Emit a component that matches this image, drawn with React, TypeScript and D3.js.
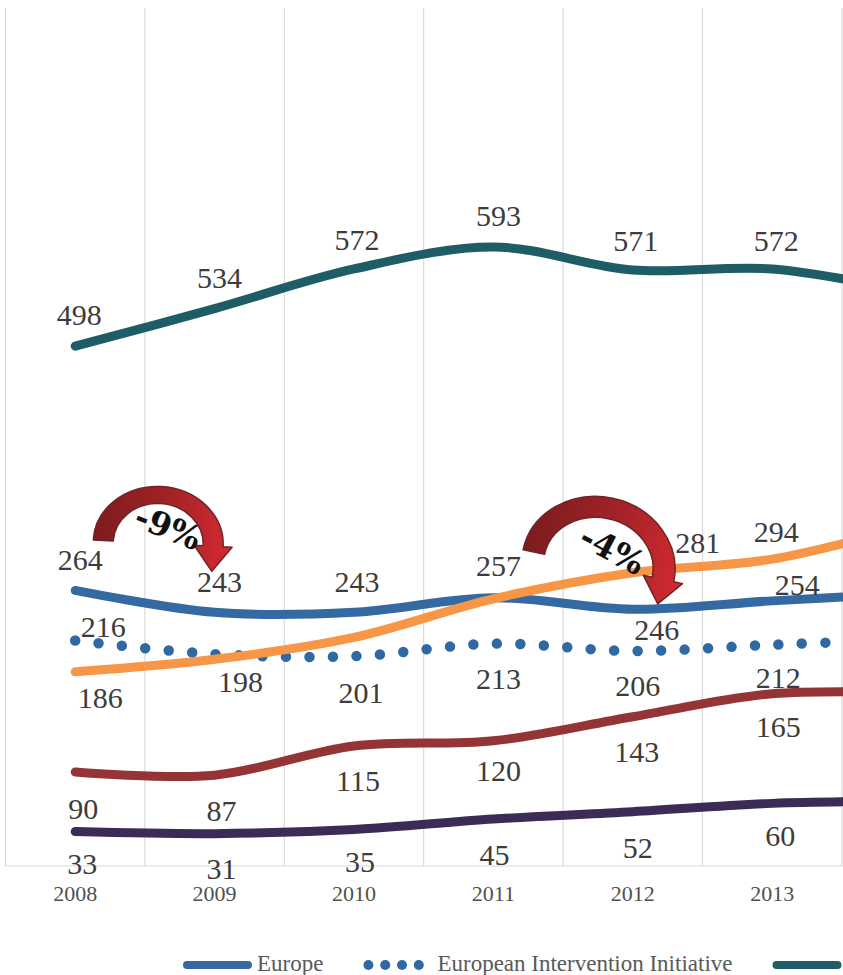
import { useEffect, useRef } from "react";
import * as d3 from "d3";

// categories (2014 sits just past the right edge of the crop)
const years = ["2008", "2009", "2010", "2011", "2012", "2013", "2014"];

// series values
const europe = [264, 243, 243, 257, 246, 254, 261];
const eii = [216, 203, 201, 213, 206, 212, 217];
const teal = [498, 534, 572, 593, 571, 572, 550];
const orange = [186, 198, 219, 256, 281, 294, 326];
const red = [90, 87, 115, 120, 143, 165, 166];
const purple = [33, 31, 35, 45, 52, 60, 62];

// which points carry a value label
const europeShown = [1, 1, 1, 1, 1, 1, 0];
const eiiShown = [1, 0, 1, 1, 1, 1, 0];
const tealShown = [1, 1, 1, 1, 1, 1, 0];
const orangeShown = [1, 1, 0, 0, 1, 1, 0];
const redShown = [1, 1, 1, 1, 1, 1, 0];
const purpleShown = [1, 1, 1, 1, 1, 1, 0];

const legendNames = ["Europe", "European Intervention Initiative", ""];

// label placement (dx, dy from the point to the label centre)
const ABOVE: [number, number] = [5, -30];
const BELOW: [number, number] = [5, 35];
const europePos: [number, number][] = [ABOVE, ABOVE, [3, -30], [5, -32], [24, 21], [25, -16], ABOVE];
const eiiPos: [number, number][] = [[28, -14], BELOW, [7, 37], BELOW, BELOW, [6, 33], BELOW];
const tealPos: [number, number][] = [[4, -31], [5, -31], [3, -29], [5, -31], [3, -29], [4, -28], ABOVE];
const orangePos: [number, number][] = [[25, 26], [26, 23], ABOVE, ABOVE, [65, -30], [4, -27], ABOVE];
const redPos: [number, number][] = [[8, 37], [7, 36], [4, 35], [5, 30], [4, 35], [6, 33], BELOW];
const purplePos: [number, number][] = [[7, 32], [7, 35], [6, 33], [1, 36], [5, 36], [8, 33], BELOW];

const W = 843;
const H = 975;
const FONT = "'Liberation Serif', 'Times New Roman', serif";

export default function App() {
  const ref = useRef<SVGSVGElement>(null);

  useEffect(() => {
    const svg = d3.select(ref.current);
    svg.selectAll("*").remove();

    const left = 5.5;
    const bw = 139.4;
    const x = d3.scaleBand().domain(years).range([left, left + bw * years.length]).padding(0);
    const y = d3.scaleLinear().domain([0, 822]).range([866, 8]);
    const xc = (yr: string) => (x(yr) as number) + x.bandwidth() / 2;

    // gridlines
    const grid = svg.append("g");
    const bounds = years.map((yr) => x(yr) as number).concat([left + bw * years.length]);
    grid.selectAll("line").data(bounds).enter().append("line")
      .attr("x1", (d) => d).attr("x2", (d) => d)
      .attr("y1", y(822)).attr("y2", y(0))
      .attr("stroke", "#d9d9d9").attr("stroke-width", 1.2);
    grid.append("line")
      .attr("x1", left).attr("x2", W).attr("y1", y(0)).attr("y2", y(0))
      .attr("stroke", "#d9d9d9").attr("stroke-width", 1.2);

    // year labels (only those inside the visible crop)
    svg.append("g").selectAll("text").data(years.filter((d) => xc(d) + 25 < W)).enter().append("text")
      .attr("x", (d) => xc(d)).attr("y", 901)
      .attr("text-anchor", "middle")
      .attr("font-family", FONT).attr("font-size", 22).attr("fill", "#505050")
      .text((d) => d);

    const series = [
      { values: teal, shown: tealShown, pos: tealPos, color: "#1e5d65", dotted: false },
      { values: purple, shown: purpleShown, pos: purplePos, color: "#3b2b56", dotted: false },
      { values: red, shown: redShown, pos: redPos, color: "#943435", dotted: false },
      { values: eii, shown: eiiShown, pos: eiiPos, color: "#2f69a3", dotted: true },
      { values: europe, shown: europeShown, pos: europePos, color: "#3469a2", dotted: false },
      { values: orange, shown: orangeShown, pos: orangePos, color: "#f79646", dotted: false },
    ];

    const line = d3.line<number>()
      .x((_, i) => xc(years[i]))
      .y((d) => y(d))
      .curve(d3.curveCatmullRom.alpha(0.5));

    const lines = svg.append("g");
    series.forEach((s) => {
      lines.append("path")
        .datum(s.values)
        .attr("fill", "none")
        .attr("stroke", s.color)
        .attr("stroke-width", s.dotted ? 10.5 : 9)
        .attr("stroke-linecap", "round")
        .attr("stroke-dasharray", s.dotted ? "0 23.5" : null)
        .attr("d", line);
    });

    // curved "change" arrows
    const defs = svg.append("defs");
    const grad = defs.append("linearGradient").attr("id", "arrowGrad")
      .attr("x1", 0).attr("x2", 1).attr("y1", 0).attr("y2", 0);
    grad.append("stop").attr("offset", "0%").attr("stop-color", "#7c1c1e");
    grad.append("stop").attr("offset", "55%").attr("stop-color", "#a42328");
    grad.append("stop").attr("offset", "100%").attr("stop-color", "#d42a30");

    const arrows = [
      { year: "2008", dx: 83, cy: y(264) - 47, rxo: 65, ryo: 57, rxi: 45, ryi: 40, rot: 3, text: "-9%", tdx: 10, tdy: -16, trot: 22 },
      { year: "2011", dx: 105, cy: y(257) - 32, rxo: 77, ryo: 69, rxi: 55, ryi: 48, rot: 12, text: "-4%", tdx: 14, tdy: -16, trot: 28 },
    ];
    const ann = svg.append("g");
    arrows.forEach((a) => {
      const cx = xc(a.year) + a.dx;
      const cy = a.cy;
      const hw = 9;
      const hl = 25;
      const mid = (a.rxo + a.rxi) / 2;
      const p = [
        `M${cx - a.rxo},${cy}`,
        `A${a.rxo},${a.ryo} 0 0 1 ${cx + a.rxo},${cy}`,
        `L${cx + a.rxo + hw},${cy}`,
        `L${cx + mid},${cy + hl}`,
        `L${cx + a.rxi - hw},${cy}`,
        `L${cx + a.rxi},${cy}`,
        `A${a.rxi},${a.ryi} 0 0 0 ${cx - a.rxi},${cy}`,
        "Z",
      ].join(" ");
      ann.append("path")
        .attr("d", p)
        .attr("fill", "url(#arrowGrad)")
        .attr("stroke", "#6e2426")
        .attr("stroke-width", 1.5)
        .attr("stroke-linejoin", "round")
        .attr("transform", `rotate(${a.rot},${cx},${cy})`);
      ann.append("text")
        .attr("transform", `translate(${cx + a.tdx},${cy + a.tdy}) rotate(${a.trot})`)
        .attr("text-anchor", "middle")
        .attr("dominant-baseline", "central")
        .attr("font-family", "'DejaVu Serif', serif").attr("font-weight", "bold").attr("font-size", 33)
        .attr("fill", "#111")
        .text(a.text);
    });

    // value labels
    const labels = svg.append("g");
    series.forEach((s) => {
      s.values.forEach((v, i) => {
        if (!s.shown[i]) return;
        const [dx, dy] = s.pos[i];
        labels.append("text")
          .attr("x", xc(years[i]) + dx)
          .attr("y", y(v) + dy + 10)
          .attr("text-anchor", "middle")
          .attr("font-family", FONT).attr("font-size", 30).attr("fill", "#3c3c3c")
          .text(v);
      });
    });

    // legend
    const legendColors = ["#3469a2", "#2f69a3", "#1e5d65"];
    const lg = svg.append("g");
    let lx = 183;
    const ly = 965;
    legendNames.forEach((name, i) => {
      if (i === 1) {
        [0, 1, 2, 3].forEach((k) => {
          lg.append("circle").attr("cx", lx + 5 + k * 16.8).attr("cy", ly).attr("r", 5).attr("fill", legendColors[i]);
        });
      } else {
        lg.append("line")
          .attr("x1", lx + 4).attr("x2", lx + 65).attr("y1", ly).attr("y2", ly)
          .attr("stroke", legendColors[i]).attr("stroke-width", 8).attr("stroke-linecap", "round");
      }
      lx += 69 + 5;
      if (name) {
        const t = lg.append("text")
          .attr("x", lx).attr("y", 971)
          .attr("font-family", FONT).attr("font-size", 23).attr("fill", "#595959")
          .text(name);
        const len = (t.node() as SVGTextElement).getComputedTextLength();
        lx += len + 40;
      }
    });
  }, []);

  return (
    <svg
      ref={ref}
      width={W}
      height={H}
      style={{ position: "absolute", left: 0, top: 0, background: "#fff", overflow: "hidden" }}
    />
  );
}
